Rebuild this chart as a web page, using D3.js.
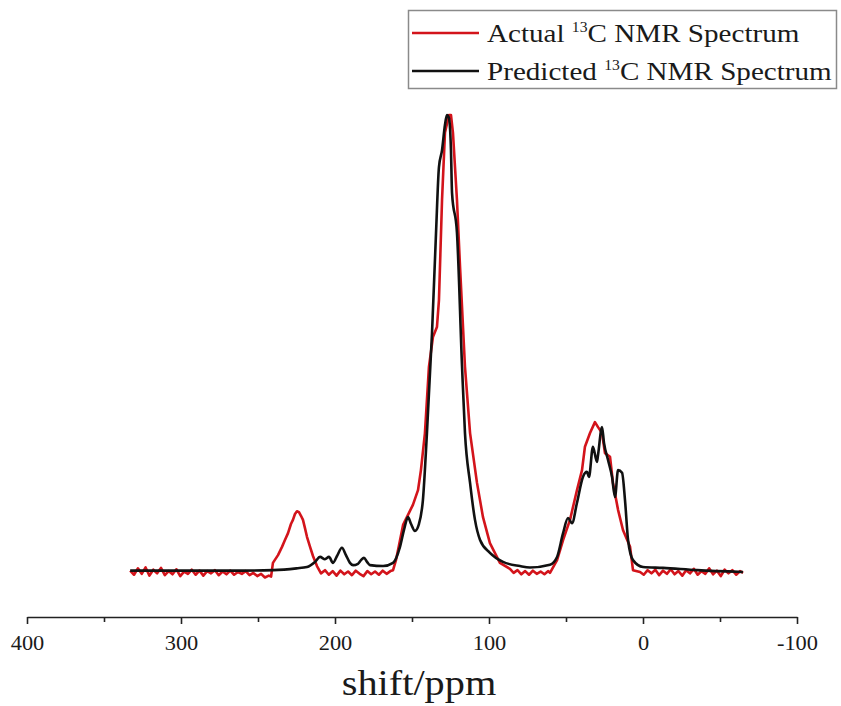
<!DOCTYPE html>
<html>
<head>
<meta charset="utf-8">
<script src="https://cdn.jsdelivr.net/npm/d3@7"></script>
<style>
body{margin:0;background:#fff}
svg{display:block}
text{font-family:"Liberation Serif","Times New Roman",serif;fill:#1a1a1a}
</style>
</head>
<body>
<svg width="841" height="706"></svg>
<script>
// chemical shift (ppm) and relative intensity
var actualPpm = [333,330.5,328,325.5,323,320.5,318,315.5,313,310.5,308,305.5,303,300.5,298,295.5,293,290.5,288,285.5,283,280.5,278,275.5,273,270.5,268,265.5,263,260.5,258,255.5,253,250.5,248,245.5,243,241.5,
    240.3,237,234.4,232.5,230.5,228.6,227.3,226,224.7,223.4,222.1,220.8,219.5,218.2,216.2,214.3,211.7,
    209.1,206.5,204,201.5,199,196.5,194,191.5,189,186.5,184,181.5,179,176.5,174,171.5,169,166.5,164,
    162.3,160.4,158.4,155.8,152.6,149.4,146.1,144.2,141.6,139,136.4,133.8,132.5,130.5,128.6,126,124.7,123.4,120.8,118.8,115.6,112.3,107.8,103.9,99.4,92.9,
    86.4,84,81.5,79,76.5,74,71.5,69,66.5,64,61.5,60.4,
    55.8,51.9,47.4,42.9,39.6,37.7,34.4,31.2,29.2,26.6,24.7,21.4,19.5,16.2,13,8.4,6.5,
    1.9,-0.5,-3,-5.5,-8,-10.5,-13,-15.5,-18,-20.5,-23,-25.5,-28,-30.5,-33,-35.5,-38,-40.5,-43,-45.5,-48,-50.5,-53,-55.5,-58,-60.5,-63,-65];
var actualIntensity = [0.3,-0.6,0.8,-0.4,1.0,-0.8,0.5,-0.3,0.9,-0.7,0.2,-0.5,0.6,-0.9,0.1,-0.4,0.5,-0.6,0.3,-0.8,0.2,-0.3,0.4,-0.7,0.1,-0.5,0.3,-0.6,0.0,-0.4,0.2,-0.7,-0.2,-0.9,-0.4,-1.2,-0.8,-1.0,
    2.0,3.7,5.5,7.0,8.5,10.5,11.4,12.7,13.3,13.1,12.3,11.4,9.6,7.7,5.5,3.5,1.3,
    -0.3,0.4,-0.6,0.2,-0.8,0.3,-0.5,0.1,-0.7,0.3,-0.4,-0.9,0.2,-0.5,0.1,-0.6,0.3,-0.4,0.2,
    0.4,2.6,5.9,10.3,12.5,14.7,17.9,22.3,30.4,44.9,51.4,53.6,59.5,81.4,96.1,100,100,96.1,81.4,66.7,44.9,30.4,19.5,12.0,6.3,2.0,
    0.7,-0.2,0.4,-0.5,0.2,-0.6,0.3,-0.4,0.1,-0.5,0.2,-0.2,
    2.6,7.0,11.4,17.9,22.3,27.4,30.4,32.8,31.7,30.4,26.0,25.2,19.5,13.6,9.2,5.5,0.4,
    0,-0.6,0.4,-0.3,0.5,-0.7,0.3,-0.4,0.6,-0.5,0.2,-0.8,0.4,-0.3,0.7,-0.6,0.2,-0.4,0.8,-0.5,0.3,-0.9,0.5,-0.3,0.4,-0.6,0.2,-0.2];

var predictedPpm = [333,300,260,240,225,218.2,213,209.7,206.5,203.9,201.3,198.7,195.5,192.9,190.3,188.3,185.1,183.1,181.2,179.2,177.3,168.8,162.3,
    157.8,155.2,152.6,150.6,148.1,145.5,142.9,140.3,137,134.4,132.5,130.5,128.6,127.3,126,124.7,124,120.8,117.5,115.6,112.3,109.1,105.8,99.4,90.9,79.9,73.4,
    60.4,55.8,51.9,48.7,46.1,42.9,39,36.4,35.1,32.5,29.9,29.2,26.6,25.3,22.7,20.1,18.2,16.2,13.6,11.7,9.7,6.5,0,-13,-35.1,-64.9];
var predictedIntensity = [0.3,0.3,0.3,0.4,0.8,1.1,2.2,3.3,2.8,3.3,2.0,3.5,5.3,3.7,2.0,1.5,1.8,2.6,3.1,2.2,1.5,1.3,2.0,
    5.5,9.2,12.0,10.5,9.0,10.5,15.8,30.4,52.3,74.2,88.6,92.3,97.8,100,99.3,92.3,82.9,74.2,44.9,30.4,19.5,11.4,7.0,4.2,2.2,1.3,1.0,
    1.6,3.3,8.5,11.8,10.7,15.1,20.8,21.9,20.8,27.4,24.1,25.6,31.7,28.2,24.5,20.8,16.4,22.3,21.7,15.8,7.0,2.6,1.1,0.9,0.4,0];

var majorTicks = [400,300,200,100,0,-100];
var minorTicks = [350,250,150,50,-50];
var legendLabels = ["Actual", "Predicted"];
var seriesColors = ["#d3141b", "#111111"];

var svg = d3.select('svg');
var stretch = 1.12; // the figure text is a little wide

var x = d3.scaleLinear().domain([400,-100]).range([27,797]);
var y = d3.scaleLinear().domain([0,100]).range([572,115]);

var actual = actualPpm.map(function(p,i){ return [p, actualIntensity[i]]; });
var predicted = predictedPpm.map(function(p,i){ return [p, predictedIntensity[i]]; });

svg.append('path')
    .datum(actual)
    .attr('fill','none')
    .attr('stroke',seriesColors[0])
    .attr('stroke-width',2.6)
    .attr('stroke-linejoin','round')
    .attr('d', d3.line().x(function(d){return x(d[0]);}).y(function(d){return y(d[1]);}));

svg.append('path')
    .datum(predicted)
    .attr('fill','none')
    .attr('stroke',seriesColors[1])
    .attr('stroke-width',2.6)
    .attr('stroke-linejoin','round')
    .attr('d', d3.line().curve(d3.curveMonotoneX).x(function(d){return x(d[0]);}).y(function(d){return y(d[1]);}));

// **** x axis ****
var axisY = 617;
var gx = svg.append('g').attr('class','x axis')
    .attr('transform','translate(0,'+axisY+')')
    .call(d3.axisBottom(x).tickValues(majorTicks).tickSize(7).tickSizeOuter(0).tickFormat(function(d){return String(d);}));
gx.select('.domain').attr('stroke','#222').attr('stroke-width',1.6);
gx.selectAll('.tick line').attr('stroke','#222').attr('stroke-width',1.6);
gx.selectAll('.tick text')
    .attr('y',0).attr('dy',0)
    .attr('transform','translate(0,33) scale('+stretch+',1)')
    .style('font-size','20px')
    .style('font-family','"Liberation Serif",serif')
    .attr('fill','#1a1a1a');

var gm = svg.append('g')
    .attr('transform','translate(0,'+axisY+')')
    .call(d3.axisBottom(x).tickValues(minorTicks).tickSize(5).tickFormat(''));
gm.select('.domain').remove();
gm.selectAll('.tick line').attr('stroke','#222').attr('stroke-width',1.6);

svg.append('text')
    .attr('class','label')
    .attr('transform','translate(419,695) scale('+stretch+',1)')
    .attr('text-anchor','middle')
    .style('font-size','36px')
    .text('shift/ppm');

// **** legend ****
var legend = svg.append('g');
legend.append('rect')
    .attr('x',408.5).attr('y',10.5).attr('width',428).attr('height',78)
    .attr('fill','#fff').attr('stroke','#8a8a8a').attr('stroke-width',1.5);

legendLabels.forEach(function(name,i){
    var ly = 33 + i*38;
    legend.append('line')
        .attr('x1',412).attr('x2',479).attr('y1',ly).attr('y2',ly)
        .attr('stroke',seriesColors[i]).attr('stroke-width',2.6);
    var t = legend.append('text')
        .attr('transform','translate(487,'+(ly+9)+') scale('+stretch+',1)')
        .style('font-size','26px');
    t.append('tspan').text(name+' ');
    t.append('tspan').attr('dy',-10).style('font-size','14px').text('13');
    t.append('tspan').attr('dy',10).text('C NMR Spectrum');
});
</script>
</body>
</html>
